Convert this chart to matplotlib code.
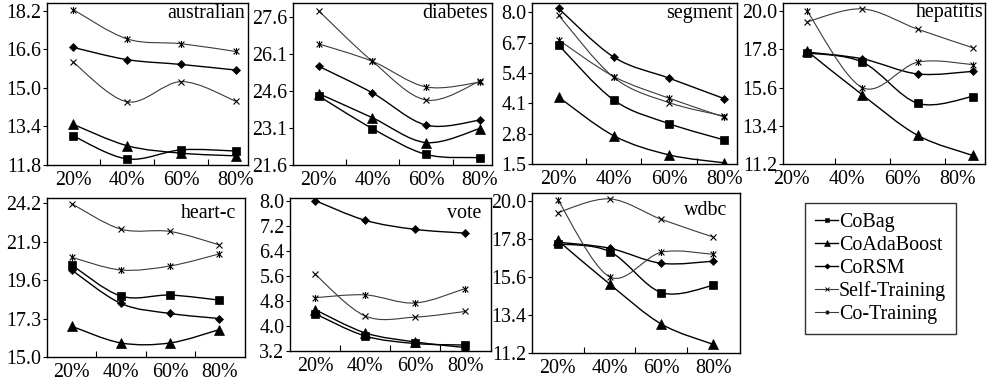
import matplotlib
matplotlib.use('Agg')
import matplotlib.pyplot as plt
import numpy as np
from matplotlib.path import Path
from matplotlib.patches import PathPatch
from matplotlib.lines import Line2D

plt.rcParams['font.family'] = ['Liberation Serif', 'DejaVu Serif']
plt.rcParams['font.size'] = 14.4

# series order: CoBag, CoAdaBoost, CoRSM, Self-Training, Co-Training
methods = ['CoBag', 'CoAdaBoost', 'CoRSM', 'Self-Training', 'Co-Training']
ratios = ['20%', '40%', '60%', '80%']

australian = [[13.01, 12.05, 12.43, 12.38],
              [13.49, 12.60, 12.29, 12.18],
              [16.68, 16.17, 15.97, 15.74],
              [16.07, 14.42, 15.26, 14.45],
              [18.25, 17.03, 16.83, 16.51]]
diabetes = [[24.40, 23.08, 22.03, 21.90],
            [24.50, 23.52, 22.51, 23.08],
            [25.61, 24.53, 23.22, 23.42],
            [27.86, 25.81, 24.24, 25.00],
            [26.52, 25.81, 24.77, 24.96]]
segment = [[6.60, 4.24, 3.23, 2.53],
           [4.37, 2.71, 1.89, 1.55],
           [8.17, 6.08, 5.18, 4.30],
           [7.88, 5.21, 4.13, 3.55],
           [6.82, 5.25, 4.32, 3.51]]
hepatitis = [[17.60, 17.07, 14.70, 15.09],
             [17.70, 15.18, 12.85, 11.69],
             [17.65, 17.26, 16.39, 16.54],
             [19.40, 20.14, 18.97, 17.90],
             [20.00, 15.60, 17.07, 16.93]]
heart_c = [[20.50, 18.64, 18.70, 18.40],
           [16.84, 15.84, 15.84, 16.64],
           [20.20, 18.20, 17.60, 17.30],
           [24.16, 22.64, 22.50, 21.70],
           [20.96, 20.20, 20.44, 21.16]]
vote = [[4.39, 3.68, 3.44, 3.39],
        [4.52, 3.78, 3.49, 3.31],
        [8.00, 7.37, 7.08, 6.96],
        [5.65, 4.32, 4.28, 4.46],
        [4.90, 4.99, 4.73, 5.19]]
wdbc = [[17.50, 17.06, 14.69, 15.10],
        [17.70, 15.18, 12.87, 11.70],
        [17.60, 17.25, 16.38, 16.50],
        [19.31, 20.10, 18.92, 17.90],
        [20.04, 15.60, 17.02, 16.90]]

W, H = 997, 386
fig = plt.figure(figsize=(W / 100, H / 100), dpi=100)

star = Path([(-1, -1), (1, 1), (-1, 1), (1, -1), (0, -1.2), (0, 1.2)],
            [Path.MOVETO, Path.LINETO, Path.MOVETO, Path.LINETO, Path.MOVETO, Path.LINETO])

styles = [dict(marker='s', ms=6, mew=0.5, lc='black', lw=1.0),
          dict(marker='^', ms=6.5, mew=0.5, lc='black', lw=1.0),
          dict(marker='D', ms=4.5, mew=0.5, lc='black', lw=1.0),
          dict(marker='x', ms=5, mew=0.8, lc='#3a3a3a', lw=0.8),
          dict(marker=star, ms=5, mew=0.8, lc='#3a3a3a', lw=0.8)]


def smooth(x, y):
    # smoothed line like the spreadsheet's, bezier through the points
    p = np.column_stack([x, y])
    ext = np.vstack([p[0], p, p[-1]])
    verts = [p[0]]
    codes = [Path.MOVETO]
    for i in range(len(p) - 1):
        p0, p1, p2, p3 = ext[i], ext[i + 1], ext[i + 2], ext[i + 3]
        verts += [p1 + (p2 - p0) / 6, p2 - (p3 - p1) / 6, p2]
        codes += [Path.CURVE4] * 3
    return Path(verts, codes)


def panel(box, data, name, ylim, yticks, xlim, shift, tpos):
    l, t, r, b = box
    ax = fig.add_axes([l / W, 1 - b / H, (r - l) / W, (b - t) / H])
    xpos = np.arange(1, 5) + shift
    for vals, st in zip(data, styles):
        ax.add_patch(PathPatch(smooth(xpos, vals), fill=False, ec=st['lc'], lw=st['lw']))
        ax.plot(xpos, vals, ls='none', marker=st['marker'], ms=st['ms'], mew=st['mew'],
                color='black', mfc='black', mec='black')
    ax.set_xlim(*xlim)
    ax.set_ylim(*ylim)
    ax.set_yticks(yticks)
    ax.set_yticklabels(['%.1f' % v for v in yticks])
    ax.set_xticks(np.arange(1, 5))
    ax.set_xticklabels(ratios)
    ax.set_xticks((xpos[:-1] + xpos[1:]) / 2, minor=True)
    ax.tick_params(axis='x', which='major', length=0, pad=4)
    ax.tick_params(axis='x', which='minor', length=4, direction='in', width=0.8)
    ax.tick_params(axis='y', length=3, pad=1, width=0.8)
    for s in ax.spines.values():
        s.set_linewidth(1.0)
    ax.annotate(name, xy=(1, 1), xycoords='axes fraction', xytext=tpos,
                textcoords='offset points', ha='right', va='top')
    return ax


top_x = (0.52, 4.23)
bot_x = (0.5, 4.52)
panel((47, 3, 248, 165), australian, 'australian', (11.8, 18.52),
      np.arange(11.8, 18.3, 1.6), top_x, 0, (-2, -1))
panel((293, 3, 492, 165), diabetes, 'diabetes', (21.6, 28.18),
      np.arange(21.6, 27.7, 1.5), top_x, 0, (-3, -1))
panel((532, 3, 737, 164), segment, 'segment', (1.5, 8.4),
      np.arange(1.5, 8.1, 1.3), top_x, 0, (-3, -1))
panel((783, 3, 985, 164), hepatitis, 'hepatitis', (11.2, 20.48),
      np.arange(11.2, 20.1, 2.2), (0.84, 4.5), 0.28, (-1, 0))
panel((47, 198, 245, 357), heart_c, 'heart-c', (15.0, 24.5),
      np.arange(15.0, 24.3, 2.3), bot_x, 0, (-6, -4))
panel((290, 198, 491, 351), vote, 'vote', (3.2, 8.08),
      np.arange(3.2, 8.1, 0.8), bot_x, 0, (-7, -4))
panel((532, 193, 740, 353), wdbc, 'wdbc', (11.2, 20.44),
      np.arange(11.2, 20.1, 2.2), bot_x, 0, (-9, -6))

handles = [Line2D([], [], color=st['lc'], lw=st['lw'], marker=st['marker'],
                  ms=st['ms'] * 0.6, mew=st['mew'] * 0.8, mfc='black', mec='black')
           for st in styles]
leg = fig.legend(handles, methods, loc='upper left', bbox_to_anchor=(805 / W, 1 - 203 / H),
                 borderaxespad=0, frameon=True, fancybox=False, edgecolor='black',
                 borderpad=0.5, labelspacing=0.19, handlelength=1.15, handletextpad=0.05)
leg.get_frame().set_linewidth(1.0)

plt.savefig('out.png', dpi=100)
